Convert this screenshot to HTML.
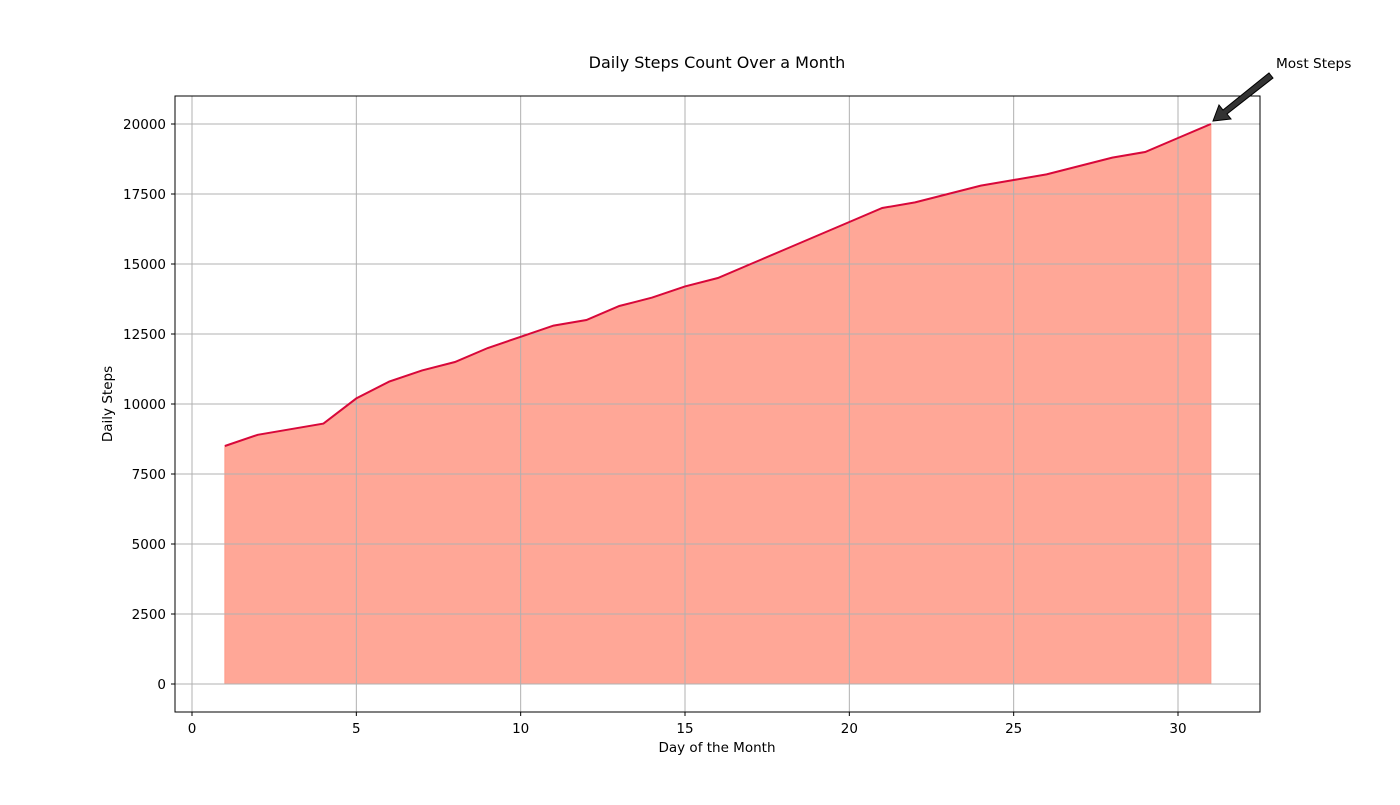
<!DOCTYPE html>
<html><head><meta charset="utf-8"><style>
body{margin:0;background:#fff;}
svg text{font-family:"DejaVu Sans","Liberation Sans",sans-serif;}
</style></head><body>
<svg id="chart" width="1400" height="800" xmlns="http://www.w3.org/2000/svg">
<rect width="1400" height="800" fill="#fff"/>
<g id="marks"></g>
<g id="grid"></g>
<g id="linelayer"></g>
<rect x="175" y="96" width="1085" height="616" fill="none" stroke="#000" stroke-width="1"/>
<g id="ticks"></g>
<text x="717" y="68" text-anchor="middle" font-size="16">Daily Steps Count Over a Month</text>
<text x="717" y="752" text-anchor="middle" font-size="13.5">Day of the Month</text>
<text transform="translate(112,404) rotate(-90)" text-anchor="middle" font-size="13.5">Daily Steps</text>
<g>
<polygon points="1213,121 1219,105 1223,110 1269,73 1273,78 1227,114 1231,119" fill="#333" stroke="#000" stroke-width="1"/>
<text x="1276" y="68" font-size="13.7">Most Steps</text>
</g>
</svg>
<script>
const days=[1,2,3,4,5,6,7,8,9,10,11,12,13,14,15,16,17,18,19,20,21,22,23,24,25,26,27,28,29,30,31];
const steps=[8500,8900,9100,9300,10200,10800,11200,11500,12000,12400,12800,13000,13500,13800,14200,14500,15000,15500,16000,16500,17000,17200,17500,17800,18000,18200,18500,18800,19000,19500,20000];
const xTicks=[0,5,10,15,20,25,30];
const yTicks=[0,2500,5000,7500,10000,12500,15000,17500,20000];
const NS="http://www.w3.org/2000/svg";
function xs(v){return 192+v*(1178-192)/30;}
function ys(v){return 684-v*(684-124)/20000;}
function mk(tag,attrs,parent){const e=document.createElementNS(NS,tag);for(const k in attrs)e.setAttribute(k,attrs[k]);parent.appendChild(e);return e;}
const grid=document.getElementById('grid'),marks=document.getElementById('marks'),ticks=document.getElementById('ticks'),ll=document.getElementById('linelayer');
xTicks.forEach(t=>{
 const g=mk('line',{x1:xs(t),x2:xs(t),y1:96,y2:712,stroke:'#b0b0b0','stroke-width':1},grid);
 
 
 mk('line',{x1:xs(t),x2:xs(t),y1:712,y2:716,stroke:'#000'},ticks);
 const l=mk('text',{x:xs(t),y:733,'text-anchor':'middle','font-size':13.5},ticks);
 l.textContent=t;
 
 
});
yTicks.forEach(t=>{
 const g=mk('line',{x1:175,x2:1260,y1:ys(t),y2:ys(t),stroke:'#b0b0b0','stroke-width':1},grid);
 
 
 mk('line',{x1:171,x2:175,y1:ys(t),y2:ys(t),stroke:'#000'},ticks);
 const l=mk('text',{x:166,y:ys(t)+5,'text-anchor':'end','font-size':13.5},ticks);
 l.textContent=t;
 
 
});
let pts=days.map((d,i)=>xs(d)+','+ys(steps[i]));
const area=mk('polygon',{points:xs(days[0])+','+ys(0)+' '+pts.join(' ')+' '+xs(days[days.length-1])+','+ys(0),fill:'#ffa797',stroke:'#ff9a88'},marks);


const line=mk('polyline',{points:pts.join(' '),fill:'none',stroke:'#d8083a','stroke-width':2},ll);


</script>
</body></html>
